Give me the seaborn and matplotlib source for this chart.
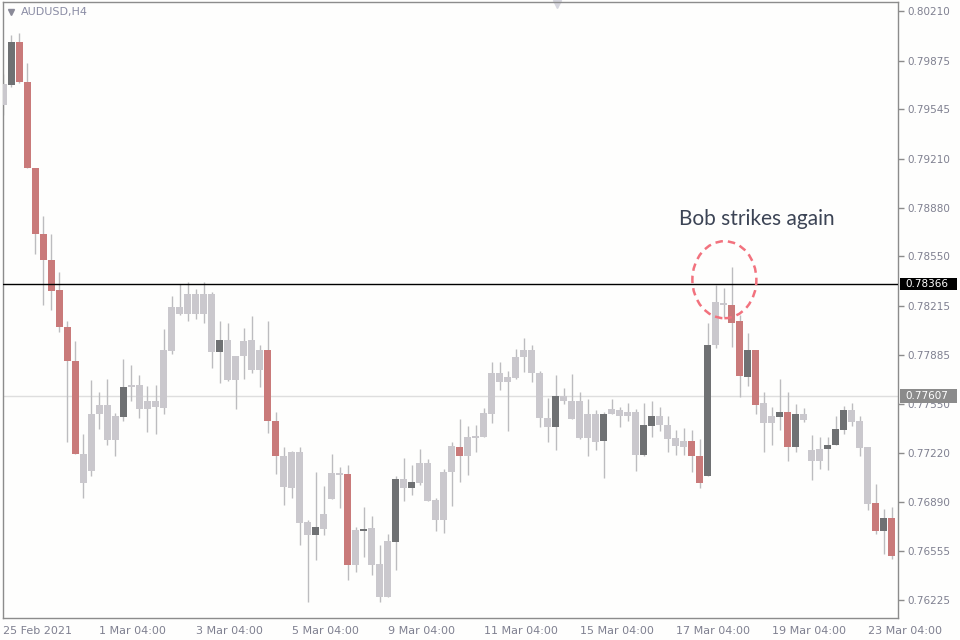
import numpy as np
import pandas as pd
import matplotlib
matplotlib.use("Agg")
import matplotlib.pyplot as plt
import matplotlib.transforms as mtransforms
from matplotlib.patches import Ellipse, Rectangle
import seaborn as sns

# AUDUSD H4 candles
opens = [0.79575, 0.79708, 0.80003, 0.79733, 0.79150, 0.78698, 0.78526, 0.78319, 0.78074, 0.77845,
         0.77210, 0.77099, 0.77483, 0.77541, 0.77306, 0.77461, 0.77665, 0.77682, 0.77516, 0.77569,
         0.77522, 0.77908, 0.78209, 0.78162, 0.78297, 0.78157, 0.78297, 0.77903, 0.77985, 0.77715,
         0.77875, 0.77983, 0.77778, 0.77914, 0.77436, 0.77202, 0.76981, 0.77229, 0.76751, 0.76663,
         0.76705, 0.76906, 0.77086, 0.77077, 0.76462, 0.76691, 0.76710, 0.76465, 0.76247, 0.76617,
         0.77042, 0.76981, 0.77017, 0.77152, 0.76901, 0.76768, 0.77091, 0.77262, 0.77199, 0.77320,
         0.77331, 0.77483, 0.77759, 0.77698, 0.77726, 0.77867, 0.77919, 0.77759, 0.77456, 0.77395,
         0.77602, 0.77574, 0.77574, 0.77320, 0.77480, 0.77301, 0.77483, 0.77511, 0.77469, 0.77500,
         0.77204, 0.77403, 0.77467, 0.77411, 0.77318, 0.77260, 0.77298, 0.77202, 0.77064, 0.77947,
         0.78237, 0.78223, 0.78110, 0.77732, 0.77914, 0.77555, 0.77425, 0.77461, 0.77500, 0.77260,
         0.77486, 0.77243, 0.77166, 0.77246, 0.77271, 0.77375, 0.77511, 0.77436, 0.77257, 0.76879,
         0.76691, 0.76779]
highs = [0.79782, 0.80050, 0.80064, 0.79859, 0.79150, 0.78824, 0.78698, 0.78446, 0.78112, 0.77974,
         0.77345, 0.77715, 0.77635, 0.77720, 0.77491, 0.77858, 0.77814, 0.77745, 0.77671, 0.77679,
         0.78057, 0.78284, 0.78366, 0.78375, 0.78328, 0.78375, 0.78306, 0.78110, 0.78099, 0.77878,
         0.78063, 0.78146, 0.77952, 0.78110, 0.77500, 0.77262, 0.77235, 0.77257, 0.76765, 0.77091,
         0.76995, 0.77215, 0.77127, 0.77138, 0.76719, 0.76851, 0.76796, 0.76594, 0.76672, 0.77064,
         0.77188, 0.77138, 0.77249, 0.77182, 0.76917, 0.77111, 0.77293, 0.77447, 0.77400, 0.77409,
         0.77522, 0.77834, 0.77834, 0.77773, 0.77925, 0.77999, 0.77947, 0.77776, 0.77594, 0.77745,
         0.77657, 0.77754, 0.77629, 0.77588, 0.77511, 0.77497, 0.77588, 0.77533, 0.77560, 0.77514,
         0.77555, 0.77569, 0.77533, 0.77469, 0.77375, 0.77387, 0.77375, 0.77312, 0.78099, 0.78353,
         0.78339, 0.78479, 0.78154, 0.78030, 0.77919, 0.77629, 0.77533, 0.77718, 0.77629, 0.77552,
         0.77527, 0.77340, 0.77331, 0.77331, 0.77469, 0.77538, 0.77555, 0.77469, 0.77257, 0.77008,
         0.76843, 0.76857]
lows = [0.79506, 0.79694, 0.79721, 0.79145, 0.78568, 0.78220, 0.78187, 0.78038, 0.77293, 0.77213,
        0.76912, 0.77064, 0.77381, 0.77271, 0.77202, 0.77436, 0.77574, 0.77458, 0.77359, 0.77348,
        0.77483, 0.77889, 0.78154, 0.78112, 0.78126, 0.78099, 0.77792, 0.77693, 0.77707, 0.77519,
        0.77718, 0.77759, 0.77665, 0.77353, 0.77077, 0.76868, 0.76912, 0.76600, 0.76214, 0.76498,
        0.76663, 0.76906, 0.76846, 0.76360, 0.76415, 0.76517, 0.76396, 0.76208, 0.76247, 0.76429,
        0.76898, 0.76934, 0.77006, 0.76895, 0.76691, 0.76677, 0.76862, 0.77022, 0.77072, 0.77229,
        0.77331, 0.77422, 0.77649, 0.77367, 0.77718, 0.77767, 0.77698, 0.77395, 0.77293, 0.77243,
        0.77552, 0.77447, 0.77312, 0.77202, 0.77243, 0.77050, 0.77483, 0.77395, 0.77436, 0.77099,
        0.77196, 0.77326, 0.77367, 0.77229, 0.77207, 0.77207, 0.77091, 0.76981, 0.77064, 0.77933,
        0.78140, 0.77939, 0.77596, 0.77671, 0.77483, 0.77229, 0.77271, 0.77375, 0.77166, 0.77229,
        0.77428, 0.77036, 0.77111, 0.77105, 0.77271, 0.77348, 0.77400, 0.77196, 0.76835, 0.76672,
        0.76539, 0.76503]
closes = [0.79713, 0.80003, 0.79727, 0.79145, 0.78700, 0.78524, 0.78314, 0.78071, 0.77842, 0.77213,
          0.77017, 0.77486, 0.77541, 0.77306, 0.77467, 0.77668, 0.77682, 0.77516, 0.77569, 0.77530,
          0.77919, 0.78209, 0.78162, 0.78297, 0.78157, 0.78297, 0.77903, 0.77985, 0.77715, 0.77878,
          0.77974, 0.77778, 0.77919, 0.77436, 0.77199, 0.76989, 0.77229, 0.76746, 0.76663, 0.76716,
          0.76810, 0.77086, 0.77070, 0.76462, 0.76697, 0.76702, 0.76462, 0.76247, 0.76622, 0.77042,
          0.76981, 0.77022, 0.77152, 0.76895, 0.76768, 0.77094, 0.77265, 0.77199, 0.77331, 0.77337,
          0.77489, 0.77759, 0.77698, 0.77732, 0.77867, 0.77919, 0.77759, 0.77456, 0.77395, 0.77602,
          0.77574, 0.77447, 0.77320, 0.77480, 0.77293, 0.77486, 0.77516, 0.77469, 0.77500, 0.77204,
          0.77411, 0.77467, 0.77409, 0.77312, 0.77268, 0.77298, 0.77202, 0.77017, 0.77947, 0.78242,
          0.78220, 0.78101, 0.77740, 0.77914, 0.77547, 0.77425, 0.77467, 0.77500, 0.77260, 0.77480,
          0.77444, 0.77166, 0.77249, 0.77271, 0.77381, 0.77513, 0.77428, 0.77251, 0.76876, 0.76691,
          0.76779, 0.76520]
# L = plain candle, D = highlighted up candle, R = highlighted down candle
styles = list("LDRRRRRRRR" "LLLLLDLLLL" "LLLLLLLDLL" "LLLRRLLLLD" "LLLRLDLLLD"
              "LDLLLLLRLL" "LLLLLLLLLD" "LLLLLDLLLL" "DDLLLLRRDL" "LRRDRLLDRD"
              "LLLDDDLLLR" "DR")

date_labels = ["25 Feb 2021", "1 Mar 04:00", "3 Mar 04:00", "5 Mar 04:00", "9 Mar 04:00",
               "11 Mar 04:00", "15 Mar 04:00", "17 Mar 04:00", "19 Mar 04:00", "23 Mar 04:00"]
price_ticks = [0.80210, 0.79875, 0.79545, 0.79210, 0.78880, 0.78550, 0.78215,
               0.77885, 0.77550, 0.77220, 0.76890, 0.76555, 0.76225]
level_line = 0.78366
bid_line = 0.77607

df = pd.DataFrame({"open": opens, "high": highs, "low": lows, "close": closes, "style": styles})
df["idx"] = np.arange(len(df))
df["body_lo"] = df[["open", "close"]].min(axis=1)
df["body_h"] = (df["open"] - df["close"]).abs().clip(lower=0.00007)

bg = "#fefefd"
frame = "#8c8c8c"
txt = "#7f8090"
colors = {"L": "#cac8cd", "D": "#6f7173", "R": "#c97a7a"}

sns.set_style("white", {"axes.facecolor": bg, "figure.facecolor": bg,
                        "axes.edgecolor": frame})
plt.rcParams["font.family"] = ["DejaVu Sans"]

fig = plt.figure(figsize=(9.6, 6.4), dpi=100, facecolor=bg)
ax = fig.add_axes([3 / 960, 22 / 640, 895 / 960, 616 / 640])

# wicks then bodies
ax.vlines(df["idx"], df["low"], df["high"], color="#bcbcbf", lw=1, zorder=2)
ax.bar(df["idx"], df["body_h"], bottom=df["body_lo"], width=0.84,
       color=[colors[s] for s in df["style"]], linewidth=0, zorder=3)

ax.axhline(bid_line, color="#dedede", lw=1, zorder=1)
ax.axhline(level_line, color="black", lw=1, zorder=4)

ax.set_xlim(-0.06, 111.8)
ax.set_ylim(0.76103, 0.80271)

for sp in ax.spines.values():
    sp.set_color(frame)
    sp.set_linewidth(1)

ax.yaxis.tick_right()
ax.set_yticks(price_ticks)
ax.set_yticklabels([f"{p:.5f}" for p in price_ticks])
ax.tick_params(axis="y", direction="out", length=4, width=1, color=frame,
               labelcolor=txt, labelsize=7.5, pad=3)
ax.set_xticks(np.arange(0, len(df), 12))
ax.set_xticklabels(date_labels)
ax.tick_params(axis="x", direction="out", length=4, width=1, color=frame,
               labelcolor=txt, labelsize=8, pad=2)
for lab in ax.get_xticklabels():
    lab.set_horizontalalignment("left")
ax.set_xlabel("")
ax.set_ylabel("")

# price boxes on the right scale
trans = mtransforms.blended_transform_factory(ax.transAxes, ax.transData)
px = (0.80271 - 0.76103) / 616
for val, fc, h in [(level_line, "black", 12), (bid_line, "#8b8b8b", 14)]:
    ax.add_patch(Rectangle((1.002, val - h * px / 2), 0.064, h * px, transform=trans,
                           facecolor=fc, edgecolor="none", clip_on=False, zorder=6))
    ax.text(1.0078, val, f"{val:.5f}", transform=trans, color="white", fontsize=7.5,
            va="center", ha="left", clip_on=False, zorder=7)

# symbol label and chart shift marker
ax.plot([0.009], [0.984], marker="v", ms=5, color="#8a8a98", transform=ax.transAxes,
        clip_on=False)
ax.text(0.0205, 0.983, "AUDUSD,H4", transform=ax.transAxes, color="#8a8ca4",
        fontsize=8, va="center", ha="left")
ax.plot([0.6187], [0.9965], marker="v", ms=6, color="#d6d6de", transform=ax.transAxes,
        clip_on=False)

# annotation around the spike
ax.add_patch(Ellipse((90.1, level_line + 0.00026), 8.0, 0.00521, fill=False,
                     edgecolor="#f2727e", lw=1.8, linestyle=(0, (3, 2)), zorder=5))
ax.text(94.1, 0.78803, "Bob strikes again", fontsize=15, color="#3c4455",
        family=["Lato", "DejaVu Sans"], ha="center", va="center", zorder=6)

fig.savefig("out.png", dpi=100, facecolor=bg)
